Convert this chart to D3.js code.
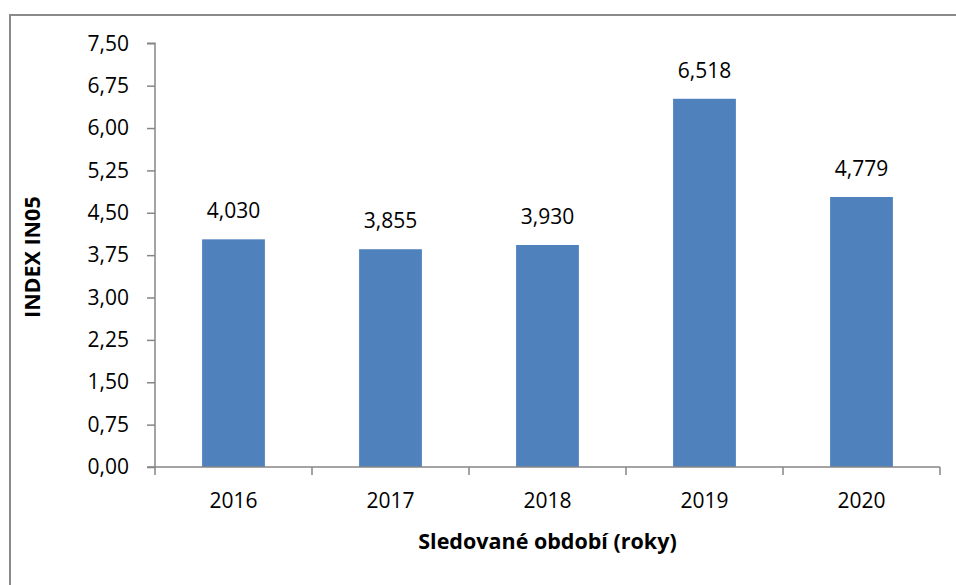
<!DOCTYPE html>
<html>
<head>
<meta charset="utf-8">
<script src="https://cdn.jsdelivr.net/npm/d3@7"></script>
<style>
  html, body { margin: 0; padding: 0; background: #fff; }
  svg { display: block; }
</style>
</head>
<body>
<svg id="chart" width="956" height="585"></svg>
<script>
// Index IN05 by observed year
const years = ["2016", "2017", "2018", "2019", "2020"];
const values = [4.030, 3.855, 3.930, 6.518, 4.779];
const yTicks = [0, 0.75, 1.5, 2.25, 3, 3.75, 4.5, 5.25, 6, 6.75, 7.5];
const xTitle = "Sledované období (roky)";
const yTitle = "INDEX IN05";

const svg = d3.select("#chart");
const font = "'Open Sans', 'Noto Sans', sans-serif";
const axisColor = "#868686";

// outer frame
svg.append("path")
  .attr("d", "M10,586 L10,15 L957,15")
  .attr("fill", "none")
  .attr("stroke", "#8a8a8a")
  .attr("stroke-width", 2);

const plot = { left: 155, right: 940, top: 43.3, bottom: 467 };

const x = d3.scaleBand().domain(years).range([plot.left, plot.right]).paddingInner(0.6).paddingOuter(0.3);
const xEdge = d3.scaleBand().domain(years).range([plot.left, plot.right]);
const y = d3.scaleLinear().domain([0, 7.5]).range([plot.bottom, plot.top]);

const fmt = v => d3.format(".2f")(v).replace(".", ",");
const fmtVal = v => d3.format(".3f")(v).replace(".", ",");

// bars
svg.append("g").selectAll("rect")
  .data(years)
  .join("rect")
  .attr("x", d => x(d))
  .attr("width", x.bandwidth())
  .attr("y", (d, i) => y(values[i]))
  .attr("height", (d, i) => y(0) - y(values[i]))
  .attr("fill", "#4f81bd");

// value labels
svg.append("g").selectAll("text")
  .data(years)
  .join("text")
  .attr("x", d => x(d) + x.bandwidth() / 2)
  .attr("y", (d, i) => y(values[i]) - 21)
  .attr("text-anchor", "middle")
  .attr("font-family", font)
  .attr("font-size", 21)
  .attr("fill", "#000")
  .text((d, i) => fmtVal(values[i]));

// y axis
const yAxis = d3.axisLeft(y).tickValues(yTicks).tickFormat(fmt).tickSize(8).tickPadding(18);
const gy = svg.append("g").attr("transform", `translate(${plot.left},0)`).call(yAxis);
gy.select(".domain").attr("stroke", axisColor).attr("stroke-width", 1.5).attr("d", `M-8,${plot.top}H0V${plot.bottom}H-8`);
gy.selectAll(".tick line").attr("stroke", axisColor).attr("stroke-width", 1.5);
gy.selectAll(".tick text").attr("font-family", font).attr("font-size", 21).attr("fill", "#000");

// x axis: ticks at category boundaries
const gx = svg.append("g").attr("transform", `translate(0,${plot.bottom})`);
gx.append("line")
  .attr("x1", plot.left).attr("x2", plot.right)
  .attr("stroke", axisColor).attr("stroke-width", 1.5);
const edges = years.map(d => xEdge(d)).concat([plot.right]);
gx.selectAll("line.edge")
  .data(edges)
  .join("line")
  .attr("class", "edge")
  .attr("x1", d => d).attr("x2", d => d)
  .attr("y1", 0).attr("y2", 8)
  .attr("stroke", axisColor).attr("stroke-width", 1.5);
gx.selectAll("text")
  .data(years)
  .join("text")
  .attr("x", d => x(d) + x.bandwidth() / 2)
  .attr("y", 41)
  .attr("text-anchor", "middle")
  .attr("font-family", font)
  .attr("font-size", 21)
  .attr("fill", "#000")
  .text(d => d);

// axis titles
svg.append("text")
  .attr("x", (plot.left + plot.right) / 2)
  .attr("y", 549)
  .attr("text-anchor", "middle")
  .attr("font-family", font)
  .attr("font-weight", "bold")
  .attr("font-size", 21.5)
  .attr("fill", "#000")
  .text(xTitle);

svg.append("text")
  .attr("transform", `translate(40,${(plot.top + plot.bottom) / 2 + 2}) rotate(-90)`)
  .attr("text-anchor", "middle")
  .attr("font-family", font)
  .attr("font-weight", "bold")
  .attr("font-size", 21.5)
  .attr("fill", "#000")
  .text(yTitle);
</script>
</body>
</html>
